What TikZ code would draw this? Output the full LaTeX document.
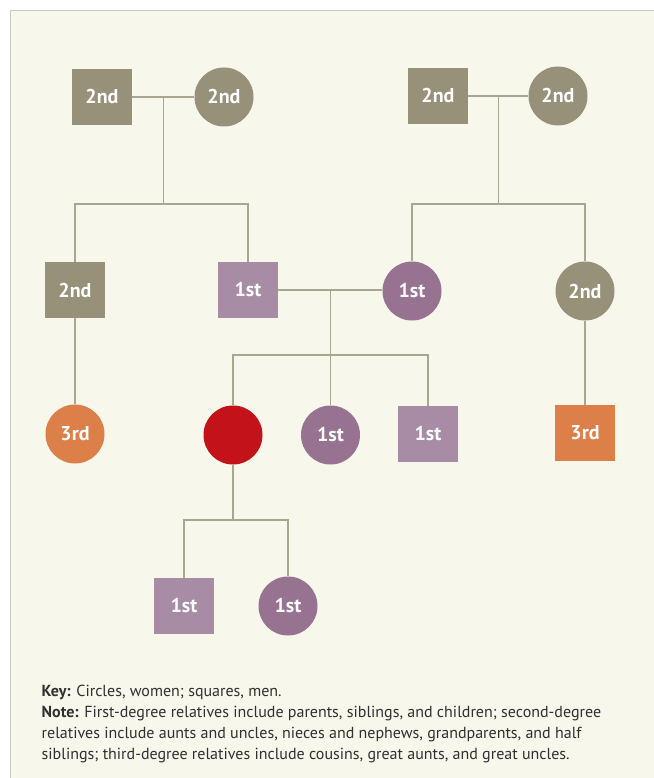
\documentclass[tikz,border=0pt]{standalone}
\usepackage{fontspec}
\setmainfont{PT Sans}
\definecolor{panel}{RGB}{247,247,236}
\definecolor{panelrule}{RGB}{200,200,196}
\definecolor{olive}{RGB}{150,145,120}
\definecolor{lilac}{RGB}{168,139,165}
\definecolor{plum}{RGB}{151,115,145}
\definecolor{proband}{RGB}{195,18,26}
\definecolor{tangerine}{RGB}{220,127,72}
\definecolor{linkline}{RGB}{168,166,144}
\definecolor{bodytext}{RGB}{50,47,48}
\tikzset{
  person/.style={inner sep=0pt, text=white,
    font=\fontsize{20}{20}\selectfont\bfseries},
  man/.style={person, rectangle, minimum width=60pt, minimum height=56pt},
  woman/.style={person, circle, minimum size=59pt},
  link/.style={draw=linkline, line width=1.3pt},
  legendline/.style={anchor=base west, inner sep=0pt, text=bodytext,
    font=\fontsize{16}{21}\selectfont},
}
\begin{document}
\begin{tikzpicture}[x=1pt,y=-1pt]
\useasboundingbox (0,0) rectangle (653,778);
% framed panel
\fill[white] (0,0) rectangle (653,778);
\filldraw[fill=panel, draw=panelrule, line width=1pt] (10,11) rectangle (670,800);

% grandparents
\node[man,   fill=olive] (gfL) at (102,97) {2nd};
\node[woman, fill=olive] (gmL) at (224,97) {2nd};
\node[man,   fill=olive] (gfR) at (438,96) {2nd};
\node[woman, fill=olive] (gmR) at (558,96) {2nd};

% parents' generation
\node[man,   fill=olive] (uncle)  at (75,290)  {2nd};
\node[man,   fill=lilac] (father) at (248,290) {1st};
\node[woman, fill=plum]  (mother) at (412,291) {1st};
\node[woman, fill=olive] (aunt)   at (585,291) {2nd};

% own generation
\node[woman, fill=tangerine] (cousinL) at (75,434)  {3rd};
\node[woman, fill=proband]   (self)    at (233,435) {};
\node[woman, fill=plum]      (sister)  at (330.5,435) {1st};
\node[man,   fill=lilac]     (brother) at (428,434) {1st};
\node[man,   fill=tangerine] (cousinR) at (585,433) {3rd};

% children
\node[man,   fill=lilac] (son)      at (184,606) {1st};
\node[woman, fill=plum]  (daughter) at (288,606) {1st};

% couples
\draw[link] (gfL.east) -- coordinate[pos=0.5] (cpL) (gmL.west);
\draw[link] (gfR.east) -- coordinate[pos=0.5] (cpR) (gmR.west);
\draw[link] (father.east) -- coordinate[pos=0.5] (cpM) (mother.west |- father.east);

% left grandparents to their children
\coordinate (barL) at (0,204);
\draw[link] (cpL) -- (cpL |- barL);
\draw[link] (uncle.north) |- (barL -| father.north) -- (father.north);
% right grandparents to their children
\draw[link] (cpR) -- (cpR |- barL);
\draw[link] (mother.north) |- (barL -| aunt.north) -- (aunt.north);

% cousins
\draw[link] (uncle.south) -- (cousinL.north);
\draw[link] (aunt.south) -- (cousinR.north);

% siblings
\coordinate (barM) at (0,355);
\draw[link] (cpM) -- (cpM |- sister.north);
\draw[link] (self.north) |- (barM -| brother.north) -- (brother.north);

% own children
\coordinate (barC) at (0,520);
\draw[link] (self.south) -- (self.south |- barC);
\draw[link] (son.north) |- (barC -| daughter.north) -- (daughter.north);

% legend
\node[legendline] (key)   at (41.5,696) {\textbf{Key:} Circles, women; squares, men.};
\node[legendline] (note1) at (41.5,717.5) {\textbf{Note:} First-degree relatives include parents, siblings, and children; second-degree};
\node[legendline] (note2) at (41.5,738.5) {relatives include aunts and uncles, nieces and nephews, grandparents, and half};
\node[legendline] (note3) at (41.5,759.5) {siblings; third-degree relatives include cousins, great aunts, and great uncles.};
\end{tikzpicture}
\end{document}
